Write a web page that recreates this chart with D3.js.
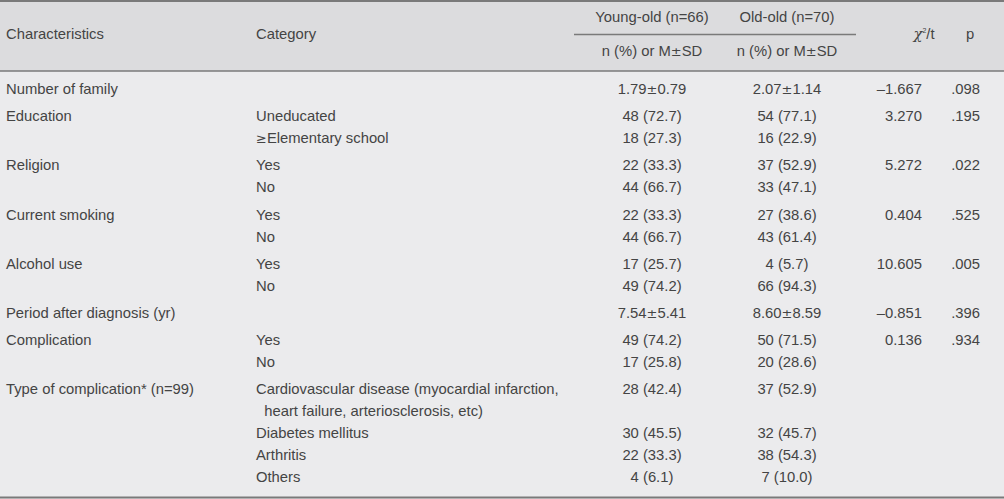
<!DOCTYPE html>
<html>
<head>
<meta charset="utf-8">
<script src="https://cdn.jsdelivr.net/npm/d3@7"></script>
<style>
  html, body { margin: 0; padding: 0; background: #ebebed; }
  svg { display: block; }
  text { font-family: "Liberation Sans", Arial, sans-serif; font-size: 14.8px; fill: #444; }
  .sym { font-family: "DejaVu Sans", sans-serif; font-size: 13px; }
</style>
</head>
<body>
<svg id="chart" width="1004" height="499"></svg>
<script>
// ---- data ----
const headerLabels = ["Characteristics", "Category", "Young-old (n=66)", "Old-old (n=70)", "n (%) or M\u00B1SD", "t", "p"];
const characteristics = [
  "Number of family", "Education", "Religion", "Current smoking", "Alcohol use",
  "Period after diagnosis (yr)", "Complication", "Type of complication* (n=99)"
];
const categories = [
  [""],
  ["Uneducated", "\u2265Elementary school"],
  ["Yes", "No"],
  ["Yes", "No"],
  ["Yes", "No"],
  [""],
  ["Yes", "No"],
  ["Cardiovascular disease (myocardial infarction,|  heart failure, arteriosclerosis, etc)", "Diabetes mellitus", "Arthritis", "Others"]
];
const youngOld = [
  ["1.79\u00B10.79"],
  ["48 (72.7)", "18 (27.3)"],
  ["22 (33.3)", "44 (66.7)"],
  ["22 (33.3)", "44 (66.7)"],
  ["17 (25.7)", "49 (74.2)"],
  ["7.54\u00B15.41"],
  ["49 (74.2)", "17 (25.8)"],
  ["28 (42.4)", "30 (45.5)", "22 (33.3)", "4 (6.1)"]
];
const oldOld = [
  ["2.07\u00B11.14"],
  ["54 (77.1)", "16 (22.9)"],
  ["37 (52.9)", "33 (47.1)"],
  ["27 (38.6)", "43 (61.4)"],
  ["4 (5.7)", "66 (94.3)"],
  ["8.60\u00B18.59"],
  ["50 (71.5)", "20 (28.6)"],
  ["37 (52.9)", "32 (45.7)", "38 (54.3)", "7 (10.0)"]
];
const chiT = ["\u20131.667", "3.270", "5.272", "0.404", "10.605", "\u20130.851", "0.136", ""];
const pValues = [".098", ".195", ".022", ".525", ".005", ".396", ".934", ""];

// ---- layout ----
const W = 1004, H = 499;
const svg = d3.select("#chart");
const headerH = 71;
const lineH = 22, groupGap = 27.2, firstY = 89;

const lines = [];
let y = firstY;
characteristics.forEach((c, gi) => {
  if (gi > 0) y += groupGap - lineH;
  categories[gi].forEach((cat, li) => {
    const parts = cat.split("|");
    lines.push({ y, gi, li, parts });
    y += lineH * parts.length;
  });
});

const colX = d3.scaleOrdinal()
  .domain(["char", "cat", "young", "old", "chi", "p"])
  .range([6, 256, 652, 787, 922, 980]);

// write text, rendering math symbols (± ≥) with a wider glyph
function richText(sel, str) {
  const pieces = str.split(/([\u00B1\u2265])/);
  pieces.forEach(p => {
    if (!p) return;
    const t = sel.append("tspan").text(p);
    if (p === "\u00B1" || p === "\u2265") t.attr("class", "sym");
  });
  return sel;
}

svg.append("rect").attr("x", 0).attr("y", 0).attr("width", W).attr("height", H).attr("fill", "#ebebed");
svg.append("rect").attr("x", 0).attr("y", 0).attr("width", W).attr("height", headerH).attr("fill", "#dcdcde");

const rule = (x1, x2, yy, w) => svg.append("line").attr("x1", x1).attr("x2", x2)
  .attr("y1", yy).attr("y2", yy).attr("stroke", "#7a7a7a").attr("stroke-width", w);
rule(0, W, 1, 2);
rule(0, W, headerH, 1.5);
rule(574, 856, 34.5, 1.5);
rule(0, W, 497.5, 2);

// header text
const hy = 39;
svg.append("text").attr("x", colX("char")).attr("y", hy).text(headerLabels[0]);
svg.append("text").attr("x", colX("cat")).attr("y", hy).text(headerLabels[1]);
svg.append("text").attr("x", colX("young")).attr("y", 22).attr("text-anchor", "middle").text(headerLabels[2]);
svg.append("text").attr("x", colX("old")).attr("y", 22).attr("text-anchor", "middle").text(headerLabels[3]);
richText(svg.append("text").attr("x", colX("young")).attr("y", 56).attr("text-anchor", "middle"), headerLabels[4]);
richText(svg.append("text").attr("x", colX("old")).attr("y", 56).attr("text-anchor", "middle"), headerLabels[4]);
const chiH = svg.append("text").attr("x", 924).attr("y", hy).attr("text-anchor", "middle");
chiH.append("tspan").attr("font-style", "italic").attr("font-family", "DejaVu Serif, serif").text("\u03C7");
chiH.append("tspan").attr("font-size", 7).attr("dy", -6).text("2");
chiH.append("tspan").attr("dy", 6).text("/" + headerLabels[5]);
svg.append("text").attr("x", 970).attr("y", hy).attr("text-anchor", "middle").text(headerLabels[6]);

// body
const base = 5;
const body = svg.append("g");
body.selectAll("text.char").data(lines.filter(d => d.li === 0)).join("text")
  .attr("class", "char").attr("x", colX("char")).attr("y", d => d.y + base)
  .text(d => characteristics[d.gi]);
lines.forEach(d => {
  d.parts.forEach((p, k) => {
    if (!p) return;
    richText(body.append("text").attr("x", colX("cat")).attr("y", d.y + base + k * lineH)
      .attr("xml:space", "preserve").style("white-space", "pre"), p);
  });
});
body.selectAll("text.young").data(lines).join("text")
  .attr("class", "young").attr("x", colX("young")).attr("y", d => d.y + base)
  .attr("text-anchor", "middle").each(function(d) { richText(d3.select(this), youngOld[d.gi][d.li]); });
body.selectAll("text.old").data(lines).join("text")
  .attr("class", "old").attr("x", colX("old")).attr("y", d => d.y + base)
  .attr("text-anchor", "middle").each(function(d) { richText(d3.select(this), oldOld[d.gi][d.li]); });
body.selectAll("text.chi").data(lines.filter(d => d.li === 0)).join("text")
  .attr("class", "chi").attr("x", colX("chi")).attr("y", d => d.y + base)
  .attr("text-anchor", "end").text(d => chiT[d.gi]);
body.selectAll("text.p").data(lines.filter(d => d.li === 0)).join("text")
  .attr("class", "p").attr("x", colX("p")).attr("y", d => d.y + base)
  .attr("text-anchor", "end").text(d => pValues[d.gi]);
</script>
</body>
</html>
